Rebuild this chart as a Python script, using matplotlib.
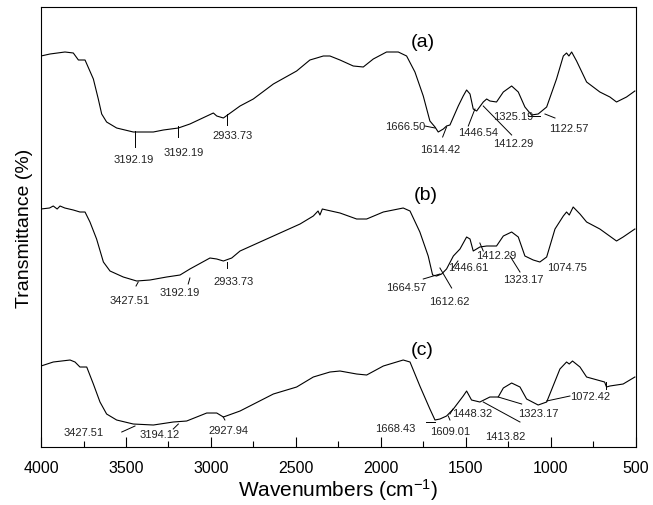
import numpy as np
import matplotlib
matplotlib.use("Agg")
import matplotlib.pyplot as plt

plt.rcParams['font.family'] = ['Liberation Sans', 'DejaVu Sans']
plt.rcParams['mathtext.fontset'] = 'custom'
plt.rcParams['mathtext.rm'] = 'Liberation Sans'
plt.rcParams['mathtext.it'] = 'Liberation Sans:italic'

# spectra (wavenumber, transmittance in arbitrary units)
wn_a = [4000, 3947, 3859, 3810, 3780, 3741, 3692, 3663, 3643, 3614, 3555, 3457, 3339, 3280,
        3192, 3124, 2986, 2966, 2927, 2878, 2829, 2751, 2633, 2496, 2418, 2378, 2339, 2300,
        2241, 2163, 2104, 2045, 1967, 1898, 1849, 1800, 1751, 1712, 1682, 1663, 1633, 1614,
        1594, 1545, 1516, 1496, 1476, 1457, 1437, 1398, 1378, 1359, 1320, 1280, 1231, 1192,
        1153, 1114, 1075, 1025, 967, 927, 908, 894, 878, 849, 790, 712, 653, 614, 555, 506]
t_a = [391, 393, 395, 394, 387, 387, 368, 348, 333, 325, 319, 315, 315, 317,
       319, 323, 334, 331, 329, 335, 341, 348, 363, 376, 387, 389, 391, 391,
       387, 381, 380, 388, 395, 395, 391, 375, 351, 326, 320, 315, 318, 321,
       322, 341, 351, 357, 353, 338, 336, 345, 348, 346, 345, 355, 361, 355,
       340, 332, 333, 340, 368, 391, 394, 391, 395, 386, 365, 355, 350, 345, 350, 356]

wn_b = [4000, 3950, 3928, 3905, 3888, 3860, 3810, 3771, 3741, 3712, 3673, 3633, 3594, 3516,
        3437, 3359, 3261, 3182, 3124, 3006, 2966, 2927, 2878, 2829, 2633, 2476, 2398, 2370,
        2359, 2345, 2320, 2241, 2143, 2084, 1986, 1869, 1829, 1771, 1722, 1696, 1673, 1643,
        1614, 1574, 1535, 1496, 1476, 1457, 1418, 1378, 1320, 1280, 1231, 1192, 1153, 1104,
        1065, 1025, 976, 927, 908, 892, 869, 829, 790, 712, 614, 575, 506]
t_b = [238, 239, 241, 238, 241, 239, 237, 235, 235, 225, 208, 185, 176, 170,
       166, 167, 170, 172, 178, 189, 188, 186, 189, 196, 211, 223, 231, 236,
       232, 238, 237, 234, 228, 228, 235, 239, 236, 215, 191, 172, 171, 173,
       178, 191, 198, 210, 208, 196, 200, 201, 201, 211, 215, 210, 191, 187,
       185, 190, 218, 231, 235, 232, 240, 233, 225, 218, 206, 210, 218]

wn_c = [4000, 3928, 3829, 3800, 3771, 3731, 3692, 3653, 3614, 3555, 3457, 3339, 3222, 3143,
        3025, 2966, 2927, 2829, 2633, 2496, 2398, 2300, 2241, 2143, 2084, 1986, 1869, 1829,
        1771, 1712, 1682, 1653, 1614, 1574, 1516, 1496, 1467, 1418, 1359, 1310, 1280, 1231,
        1182, 1143, 1075, 1025, 947, 908, 892, 873, 829, 790, 684, 673, 653, 575, 506]
t_c = [81, 85, 87, 85, 80, 80, 63, 45, 33, 27, 23, 22, 25, 26,
       34, 34, 30, 36, 53, 60, 70, 75, 76, 73, 72, 81, 87, 85,
       61, 38, 27, 28, 31, 38, 51, 56, 47, 45, 50, 50, 59, 64,
       60, 48, 42, 45, 78, 85, 83, 86, 80, 70, 65, 60, 61, 63, 70]

panel_labels = ['(a)', '(b)', '(c)']

# peak labels: text, text position, leader line
peaks_a = [("3192.19", (3457, 288), (3447, 316, 3447, 300)),
           ("3192.19", (3163, 295), (3192, 321, 3192, 310)),
           ("2933.73", (2872, 312), (2908, 333, 2908, 322)),
           ("1666.50", (1859, 321), (1741, 321, 1682, 319)),
           ("1614.42", (1653, 298), (1614, 320, 1637, 310)),
           ("1446.54", (1428, 315), (1447, 338, 1486, 321)),
           ("1412.29", (1222, 304), (1398, 341, 1231, 312)),
           ("1325.19", (1222, 331), (1134, 331, 1065, 331)),
           ("1122.57", (892, 319), (1035, 333, 976, 329))]
peaks_b = [("3427.51", (3481, 147), (3428, 165, 3441, 161)),
           ("3192.19", (3186, 155), (3124, 169, 3134, 163)),
           ("2933.73", (2869, 166), (2908, 185, 2908, 179)),
           ("1664.57", (1853, 160), (1751, 168, 1653, 173)),
           ("1612.62", (1598, 146), (1653, 179, 1584, 159)),
           ("1446.61", (1486, 180), (1582, 178, 1547, 186)),
           ("1412.29", (1319, 192), (1418, 204, 1398, 196)),
           ("1323.17", (1163, 168), (1241, 191, 1182, 175)),
           ("1074.75", (908, 180), None)]
peaks_c = [("3427.51", (3747, 15), (3525, 15, 3447, 21)),
           ("3194.12", (3300, 13), (3222, 18, 3192, 23)),
           ("2927.94", (2898, 17), (2928, 30, 2918, 27)),
           ("1668.43", (1918, 19), (1735, 25, 1682, 25)),
           ("1609.01", (1594, 16), (1604, 31, 1594, 27)),
           ("1448.32", (1461, 34), (1594, 33, 1576, 38)),
           ("1413.82", (1266, 11), (1398, 45, 1182, 25)),
           ("1323.17", (1075, 34), (1310, 50, 1172, 43)),
           ("1072.42", (771, 51), (1025, 46, 888, 51))]


def main():
    fig = plt.figure(figsize=(6.53, 5.06), dpi=100)
    ax = fig.add_axes([0.0628, 0.1146, 0.911, 0.8696])

    curves = [(wn_a, t_a, peaks_a, (1753, 405)),
              (wn_b, t_b, peaks_b, (1735, 253)),
              (wn_c, t_c, peaks_c, (1760, 98))]
    for (wn, t, peaks, lab_pos), lab in zip(curves, panel_labels):
        ax.plot(wn, t, color='black', lw=0.8)
        ax.text(lab_pos[0], lab_pos[1], lab, fontsize=14, ha='center', va='center')
        for txt, pos, lead in peaks:
            ax.text(pos[0], pos[1], txt, fontsize=8, color='#222222',
                    ha='center', va='center')
            if lead is not None:
                ax.plot([lead[0], lead[2]], [lead[1], lead[3]], color='black', lw=0.7)

    # small mark near 673 on curve (c)
    ax.plot([673, 673], [65, 58], color='black', lw=0.7)

    ax.set_xlim(4000, 500)
    ax.set_ylim(0, 440)
    ax.set_xticks(np.arange(4000, 499, -500))
    ax.set_xticks(np.arange(3750, 500, -500), minor=True)
    ax.set_yticks([])
    ax.tick_params(axis='x', which='major', direction='in', length=7, width=0.8,
                   labelsize=11.5, pad=9, top=False)
    ax.tick_params(axis='x', which='minor', direction='in', length=4, width=0.8, top=False)
    for sp in ax.spines.values():
        sp.set_linewidth(0.8)

    ax.set_xlabel('Wavenumbers (cm$^{-1}$)', fontsize=15, labelpad=1)
    ax.set_ylabel('Transmittance (%)', fontsize=14, labelpad=6)

    fig.savefig('out.png', dpi=100)


if __name__ == "__main__":
    main()
